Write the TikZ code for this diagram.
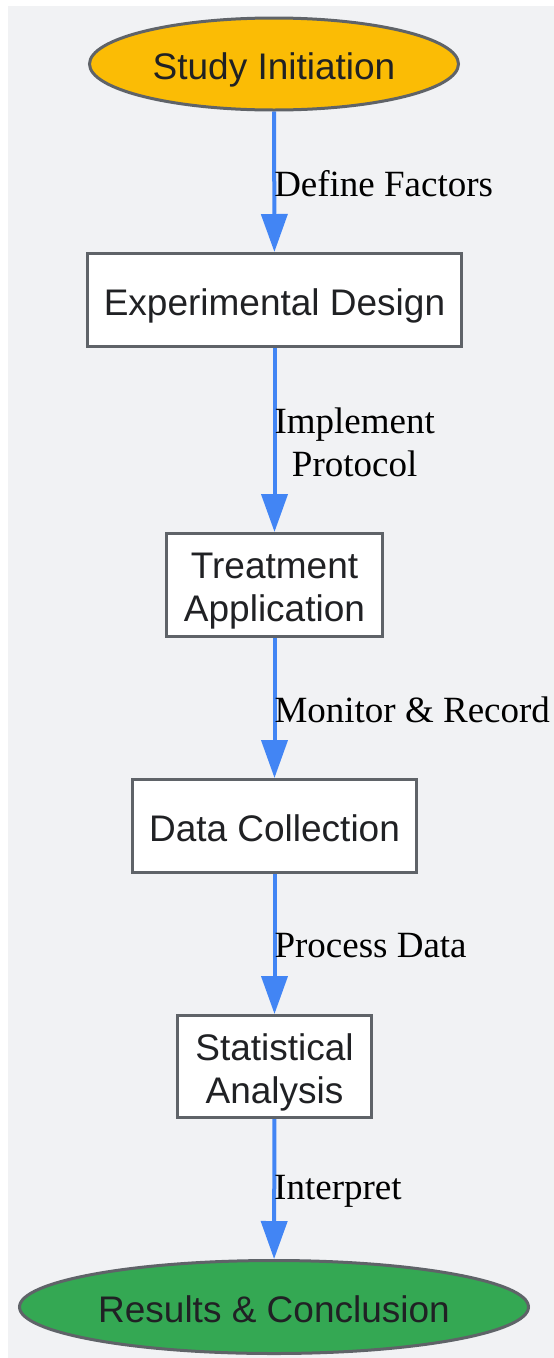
\documentclass[tikz,border=0pt]{standalone}
\usepackage{fontspec}
\setmainfont{Liberation Serif}
\setsansfont{Liberation Sans}
\usetikzlibrary{arrows.meta,shapes.geometric}
\definecolor{bggray}{HTML}{F1F2F4}
\definecolor{bordergray}{HTML}{5F6368}
\definecolor{flowblue}{HTML}{4285F4}
\definecolor{gyellow}{HTML}{FBBC05}
\definecolor{ggreen}{HTML}{34A853}
\definecolor{txtdark}{HTML}{202124}
\newcommand{\firststrut}{\rule{0pt}{38pt}}
\begin{document}
\begin{tikzpicture}[x=1pt,y=-1pt,
  boxbase/.style={draw=bordergray,line width=3pt,fill=white,inner sep=0pt,
    font=\sffamily\fontsize{37}{43}\selectfont,text=txtdark,align=center},
  stepbox/.style={boxbase,text height=30pt,text depth=0pt},
  twobox/.style={boxbase},
  terminal/.style={ellipse,draw=bordergray,line width=3pt,inner sep=0pt,
    font=\sffamily\fontsize{37}{43}\selectfont,text=txtdark,
    text height=30pt,text depth=0pt},
  flow/.style={draw=flowblue,line width=4pt,-{Triangle[width=26pt,length=38pt]}},
  elabel/.style={anchor=west,inner sep=0pt,align=center,text=black,
    font=\rmfamily\fontsize{37}{43}\selectfont}
]
\useasboundingbox (0,0) rectangle (554,1358);
\fill[bggray] (8,6) rectangle (554,1358);

\node[terminal,fill=gyellow,minimum width=369pt,minimum height=92pt] (start) at (274,64) {Study Initiation};
\node[stepbox,minimum width=374pt,minimum height=93pt] (design) at (274.5,300) {Experimental Design};
\node[twobox,minimum width=216pt,minimum height=103pt] (treat) at (274.5,585) {\firststrut Treatment\\Application};
\node[stepbox,minimum width=284pt,minimum height=93pt] (data) at (274.5,826) {Data Collection};
\node[twobox,minimum width=194pt,minimum height=102pt] (stat) at (274.5,1066.5) {\firststrut Statistical\\Analysis};
\node[terminal,fill=ggreen,minimum width=509pt,minimum height=93pt] (results) at (274,1307) {Results \& Conclusion};

\draw[flow] (start) -- node[elabel,xshift=-2pt,yshift=-2pt] {Define Factors} (design);
\draw[flow] (design) -- node[elabel,xshift=-2pt,yshift=-2pt] {Implement\\Protocol} (treat);
\draw[flow] (treat) -- node[elabel,xshift=-2pt,yshift=-2pt] {Monitor \& Record} (data);
\draw[flow] (data) -- node[elabel,xshift=-2pt,yshift=-2pt] {Process Data} (stat);
\draw[flow] (stat) -- node[elabel,xshift=-2pt,yshift=-2pt] {Interpret} (results);
\end{tikzpicture}
\end{document}
